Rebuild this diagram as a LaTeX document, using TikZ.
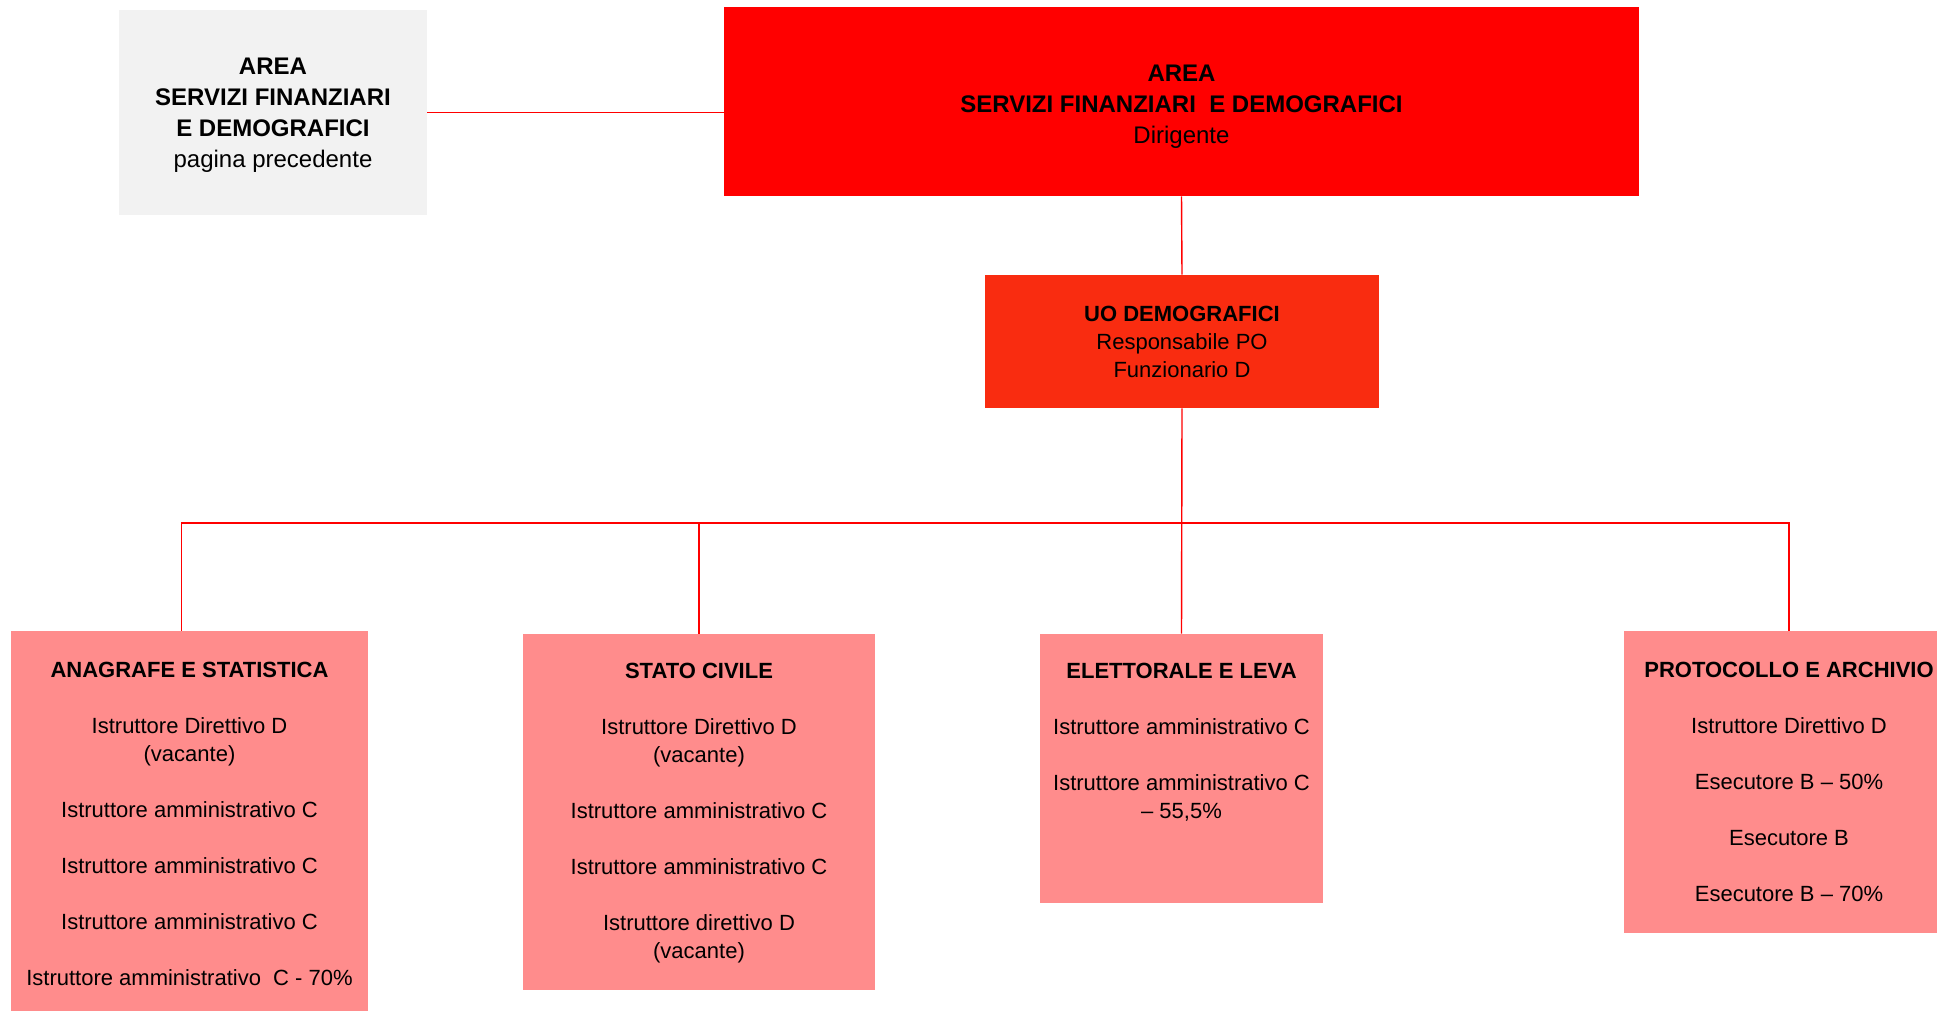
\documentclass[tikz,border=0pt]{standalone}
\usepackage{fontspec}
\setmainfont{Liberation Sans}
\usetikzlibrary{positioning}

\definecolor{rosso}{RGB}{255,0,0}
\definecolor{arancio}{RGB}{249,44,16}
\definecolor{rosa}{RGB}{255,140,140}
\definecolor{grigio}{RGB}{242,242,242}

\begin{document}
\begin{tikzpicture}[x=0.5pt,y=-0.5pt,
    casella/.style={rectangle,inner sep=0pt,draw=none},
    ufficio/.style={casella,fill=rosa},
    voci/.style={align=center,inner sep=0pt,font=\fontsize{11}{14}\selectfont},
    intesta/.style={align=center,inner sep=0pt,font=\fontsize{12}{15.5}\selectfont},
    conn/.style={draw=rosso,line width=0.7pt}]

            % pagina intera
            \clip (0,0) rectangle (1937,1011);
            \fill[white] (0,0) rectangle (1937,1011);

            % caselle in alto
            \node[casella,fill=grigio,minimum width=154pt,minimum height=102.5pt] (prec) at (273,112.5) {};
            \node[intesta] (prectxt) at ([yshift=-1.5pt]prec.center)
                {\textbf{AREA}\\\textbf{SERVIZI FINANZIARI}\\\textbf{E DEMOGRAFICI}\\pagina precedente};
            \node[casella,fill=rosso,minimum width=457.5pt,minimum height=94.5pt] (area) at (1181.5,101.5) {};
            \node[intesta] (areatxt) at ([yshift=-2.5pt]area.center)
                {\textbf{AREA}\\\textbf{SERVIZI FINANZIARI\ \ E DEMOGRAFICI}\\Dirigente};
            \node[casella,fill=arancio,minimum width=197pt,minimum height=66.5pt,
                align=center,font=\fontsize{11}{14}\selectfont] (uo) at (1182,341.5)
                {\textbf{UO DEMOGRAFICI}\\Responsabile PO\\Funzionario D};

            % uffici
            \node[ufficio,minimum width=178.5pt,minimum height=199.5pt] (ana) at (189.5,830.5) {};
            \node[ufficio,minimum width=176pt,minimum height=178pt] (sta) at (699,812) {};
            \node[ufficio,minimum width=141.5pt,minimum height=134.5pt] (ele) at (1181.5,768.5) {};
            \node[ufficio,minimum width=165pt,minimum height=151pt] (pro) at (1789,782) {};

            \node[voci,below=15.5pt of ana.north] (anatxt)
                {\textbf{ANAGRAFE E STATISTICA}\\[14pt]
                Istruttore Direttivo D\\(vacante)\\[14pt]
                Istruttore amministrativo C\\[14pt]
                Istruttore amministrativo C\\[14pt]
                Istruttore amministrativo C\\[14pt]
                Istruttore amministrativo\ \ C - 70\%};
            \node[voci,below=14.5pt of sta.north] (statxt)
                {\textbf{STATO CIVILE}\\[14pt]
                Istruttore Direttivo D\\(vacante)\\[14pt]
                Istruttore amministrativo C\\[14pt]
                Istruttore amministrativo C\\[14pt]
                Istruttore direttivo D\\(vacante)};
            \node[voci,below=14.5pt of ele.north] (eletxt)
                {\textbf{ELETTORALE E LEVA}\\[14pt]
                Istruttore amministrativo C\\[14pt]
                Istruttore amministrativo C\\– 55,5\%};
            \node[voci,below=15.5pt of pro.north] (protxt)
                {\textbf{PROTOCOLLO E ARCHIVIO}\\[14pt]
                Istruttore Direttivo D\\[14pt]
                Esecutore B – 50\%\\[14pt]
                Esecutore B\\[14pt]
                Esecutore B – 70\%};

            % collegamenti
            \coordinate (bus) at (0,523);
            \draw[conn] (prec.east) -- (prec.east -| area.west);
            \draw[conn] (area.south) -- (uo.north);
            \draw[conn] (uo.south) -- (ele.north);
            \draw[conn] ([xshift=-4pt]ana.north) |- (pro.north |- bus) -- (pro.north);
            \draw[conn] (sta.north) -- (sta.north |- bus);
\end{tikzpicture}
\end{document}
